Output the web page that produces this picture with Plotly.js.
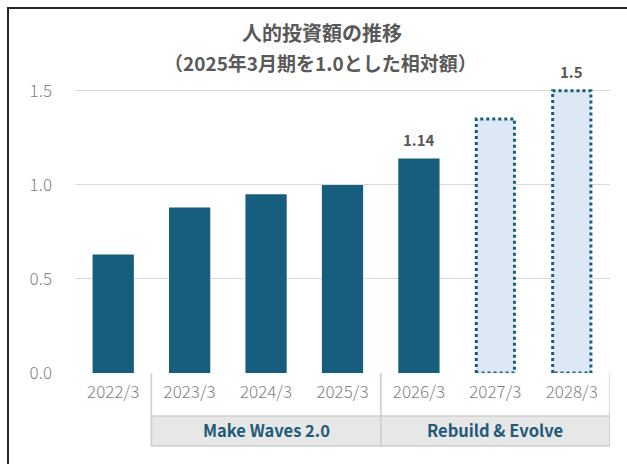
<!DOCTYPE html>
<html>
<head>
<meta charset="utf-8">
<script src="https://cdn.plot.ly/plotly-3.0.1.min.js"></script>
<style>
html,body{margin:0;padding:0;background:#fff;}
#wrap{position:relative;width:627px;height:464px;overflow:hidden;}
#chart{position:absolute;left:0;top:0;width:627px;height:464px;}
#frame{position:absolute;left:7px;top:7px;width:700px;height:600px;border-top:2px solid #262626;border-left:2px solid #262626;pointer-events:none;}
</style>
</head>
<body>
<div id="wrap"><div id="chart"></div><div id="frame"></div></div>
<script>
// ---- data ----
const categories = ['2022/3','2023/3','2024/3','2025/3','2026/3','2027/3','2028/3'];
const values = [0.63, 0.88, 0.95, 1.0, 1.14, 1.35, 1.5];
const isPlan = [false, false, false, false, false, true, true];
const valueLabels = ['', '', '', '', '1.14', '', '1.5'];
const groupNames = ['Make Waves 2.0', 'Rebuild & Evolve'];
const groupStart = [1, 4];
const groupEnd = [3, 6];
const yTickVals = [0, 0.5, 1.0, 1.5];
const titleLine1 = '人的投資額の推移';
const titleLine2 = '（2025年3月期を1.0とした相対額）';

// ---- styles ----
const FONT = '"Noto Sans CJK JP", "Noto Sans", sans-serif';
const DARK = '#175d7d';
const LIGHT = '#dce9f5';
const GRID = '#d9d9d9';
const TXT = '#595959';
const TICK = '#7f7f7f';
const BAND = '#e7e7e7';
const BANDLINE = '#d0d0d0';
const PLAN_HALF = 0.25;

const xs = categories.map((c, i) => i);

const traces = [];
traces.push({
  type: 'bar', x: xs, y: values.map((v, i) => isPlan[i] ? null : v),
  width: 0.54, marker: {color: DARK, line: {width: 0}}, hoverinfo: 'skip'
});
traces.push({
  type: 'bar', x: xs, y: values.map((v, i) => isPlan[i] ? v : null),
  width: PLAN_HALF * 2, marker: {color: LIGHT, line: {width: 0}}, hoverinfo: 'skip'
});
xs.forEach((x, i) => {
  if (!isPlan[i]) return;
  const v = values[i];
  traces.push({
    type: 'scatter', mode: 'lines',
    x: [x - PLAN_HALF, x - PLAN_HALF, x + PLAN_HALF, x + PLAN_HALF, x - PLAN_HALF],
    y: [0, v, v, 0, 0],
    line: {color: DARK, width: 3, dash: '3px,3px'}, hoverinfo: 'skip'
  });
});

const L = 75, R = 17, T = 72, B = 91, W = 627, H = 464;
const plotH = H - T - B, plotW = W - L - R;
const py = p => (H - B - p) / plotH;     // pixel y -> paper y
const px = p => (p - L) / plotW;         // pixel x -> paper x

const annotations = [];
xs.forEach((x, i) => {
  if (!valueLabels[i]) return;
  annotations.push({
    x: x, y: values[i], xref: 'x', yref: 'y', text: valueLabels[i], showarrow: false,
    yanchor: 'bottom', yshift: 7, font: {family: FONT, size: 15, color: TXT, weight: 'bold'}
  });
});
annotations.push({
  x: px(W / 2 + 8), y: py(32), xref: 'paper', yref: 'paper', text: titleLine1, showarrow: false,
  xanchor: 'center', yanchor: 'middle', font: {family: FONT, size: 20, color: TXT, weight: 'bold'}
});
annotations.push({
  x: px(W / 2 + 7), y: py(63), xref: 'paper', yref: 'paper', text: titleLine2, showarrow: false,
  xanchor: 'center', yanchor: 'middle', font: {family: FONT, size: 19, color: TXT, weight: 'bold'}
});

const bandTop = py(416), bandBot = py(446);
const shapes = [];
groupNames.forEach((g, k) => {
  const x0 = groupStart[k] - 0.5, x1 = groupEnd[k] + 0.5;
  shapes.push({type: 'rect', xref: 'x', yref: 'paper', x0: x0, x1: x1, y0: bandBot, y1: bandTop,
    fillcolor: BAND, line: {color: BANDLINE, width: 1.5}, layer: 'above'});
  shapes.push({type: 'line', xref: 'x', yref: 'paper', x0: x0, x1: x0, y0: 0, y1: bandBot,
    line: {color: BANDLINE, width: 1.5}});
  shapes.push({type: 'line', xref: 'x', yref: 'paper', x0: x1, x1: x1, y0: 0, y1: bandBot,
    line: {color: BANDLINE, width: 1.5}});
  annotations.push({
    x: (x0 + x1) / 2, y: py(430), xref: 'x', yref: 'paper', text: g, showarrow: false,
    xanchor: 'center', yanchor: 'middle', font: {family: FONT, size: 16.5, color: '#1f5b79', weight: 'bold'}
  });
});

const layout = {
  width: W, height: H,
  margin: {l: L, r: R, t: T, b: B, pad: 0},
  paper_bgcolor: 'rgba(0,0,0,0)', plot_bgcolor: 'rgba(0,0,0,0)',
  showlegend: false, barmode: 'overlay',
  font: {family: FONT, color: TICK},
  xaxis: {
    range: [-0.5, categories.length - 0.5], tickvals: xs, ticktext: categories,
    showgrid: false, zeroline: false, showline: false, ticks: '',
    tickfont: {family: FONT, size: 17, color: TICK, weight: 300}, ticklabelstandoff: 7, fixedrange: true
  },
  yaxis: {
    range: [0, 1.6], tickvals: yTickVals, tickformat: '.1f',
    showgrid: true, gridcolor: GRID, gridwidth: 1, zeroline: false, showline: false, ticks: '',
    tickfont: {family: FONT, size: 17, color: TICK, weight: 300}, ticklabelstandoff: 22, fixedrange: true
  },
  shapes: shapes,
  annotations: annotations
};

Plotly.newPlot('chart', traces, layout, {staticPlot: true, displayModeBar: false});
</script>
</body>
</html>
